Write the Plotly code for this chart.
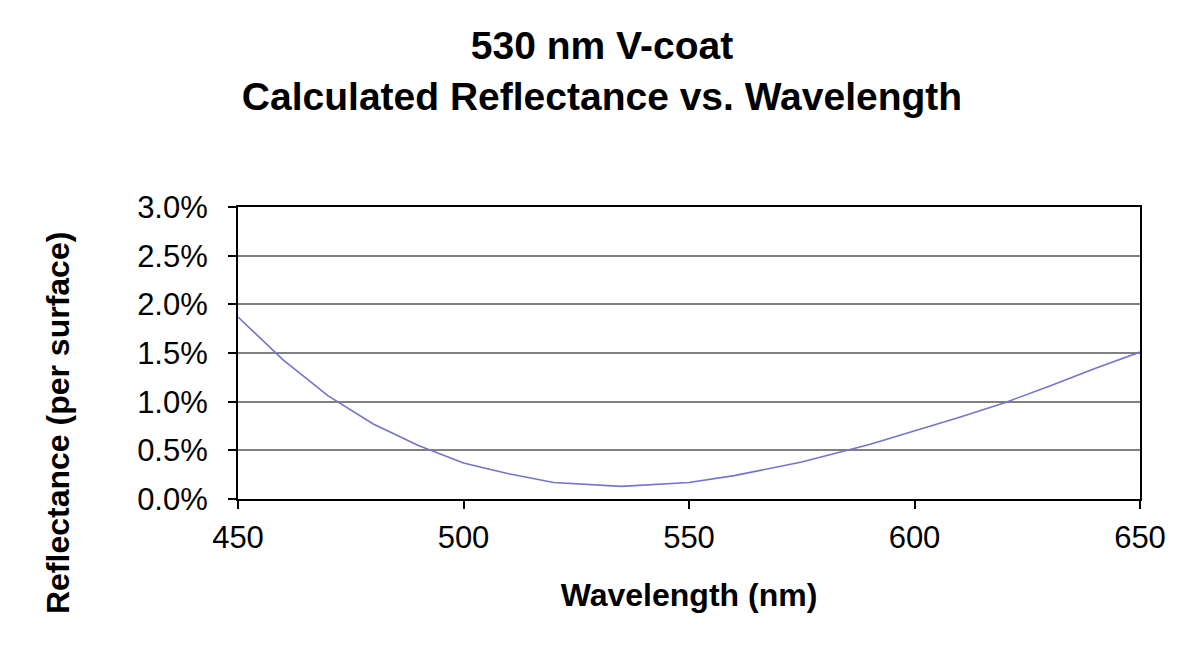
import plotly.graph_objects as go

# (nm, reflectance in %)
wavelength = [450, 460, 470, 480, 490, 500, 510, 520, 535, 550, 560, 575, 590, 600, 610, 620, 630, 640, 650]
reflectance = [1.87, 1.43, 1.06, 0.77, 0.55, 0.37, 0.26, 0.17, 0.13, 0.17, 0.24, 0.38, 0.56, 0.70, 0.84, 0.99, 1.16, 1.34, 1.51]

x_ticks = [450, 500, 550, 600, 650]
y_ticks = [0.0, 0.5, 1.0, 1.5, 2.0, 2.5, 3.0]
y_labels = [f"{v:.1f}%" for v in y_ticks]

font = "Liberation Sans, Arial, sans-serif"

fig = go.Figure(go.Scatter(x=wavelength, y=reflectance, mode='lines',
                           line=dict(color='#7474CC', width=1.6)))

fig.update_layout(
    width=1200, height=659,
    paper_bgcolor='white', plot_bgcolor='white',
    margin=dict(l=230, r=68, t=199, b=168),
    showlegend=False,
    font=dict(family=font, color='black'),
    title=dict(text="<b>530 nm V-coat<br>Calculated Reflectance vs. Wavelength</b>",
               x=0.495, xref='container', xanchor='center',
               y=1 - 51 / 659, yref='container', yanchor='top',
               font=dict(size=39, family=font)),
)

# y title sits lower than the plot centre in the original, so place it by hand
fig.add_annotation(text="<b>Reflectance (per surface)</b>", textangle=-90,
                   xref='paper', yref='paper', x=-0.1996, y=0.26,
                   xanchor='center', yanchor='middle', showarrow=False,
                   font=dict(size=32, family=font))

fig.update_xaxes(range=[450, 650], tickvals=x_ticks, ticks='outside', ticklen=8, tickwidth=1.5,
                 tickcolor='black', tickfont=dict(size=31), ticklabelstandoff=2,
                 showline=True, linecolor='black', linewidth=2, mirror=True,
                 showgrid=False, zeroline=False,
                 title=dict(text="<b>Wavelength (nm)</b>", font=dict(size=32), standoff=29))

fig.update_yaxes(range=[0, 3.0], tickvals=y_ticks, ticktext=y_labels, ticks='outside', ticklen=8,
                 tickwidth=1.5, tickcolor='black', tickfont=dict(size=31), ticklabelstandoff=14,
                 showline=True, linecolor='black', linewidth=2, mirror=True,
                 showgrid=True, gridcolor='#808080', gridwidth=2, zeroline=False)

fig.write_html("out.html")
